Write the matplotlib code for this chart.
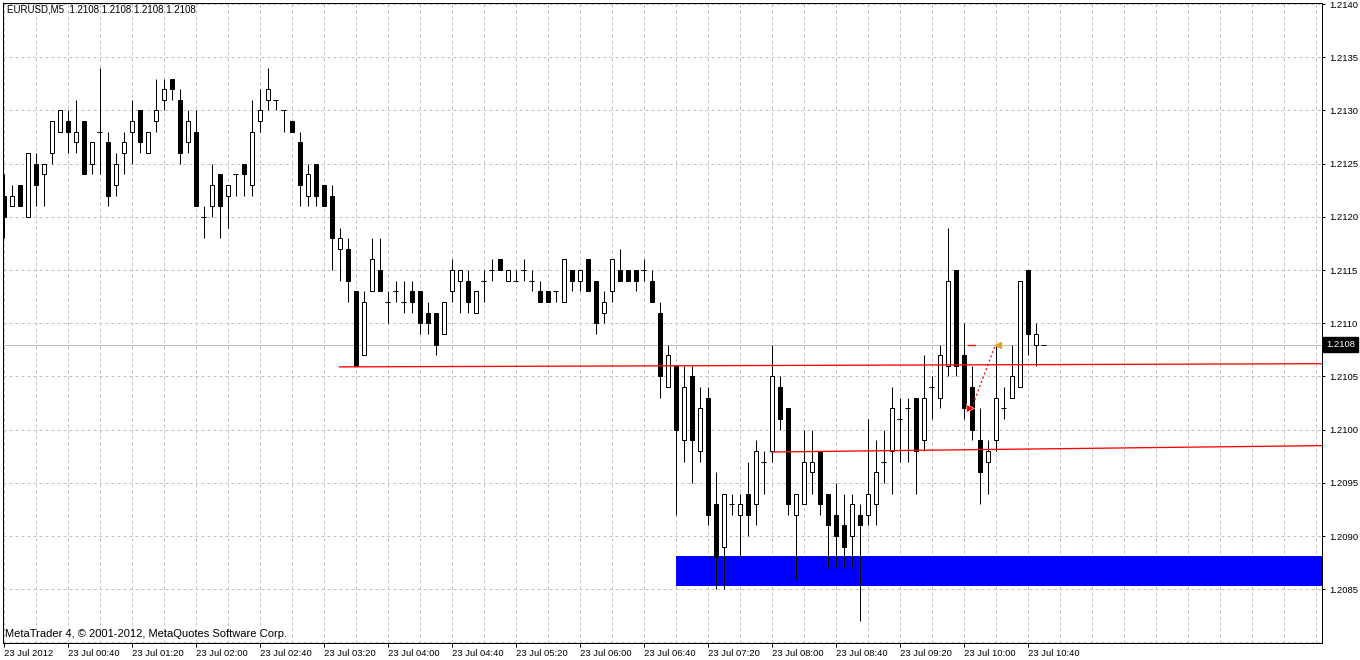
import matplotlib
matplotlib.use("Agg")
import matplotlib.pyplot as plt
import numpy as np

plt.rcParams["font.family"] = ["Liberation Sans", "DejaVu Sans"]

# EURUSD M5, 23 Jul 2012, one bar every 5 minutes starting 00:00
opens = [
    1.2122, 1.2121, 1.2123, 1.2120, 1.2125, 1.2124, 1.2126, 1.2128, 1.2129, 1.2127,
    1.2129, 1.2125, 1.2128, 1.2127, 1.2123, 1.2126, 1.2128, 1.2130, 1.2126, 1.2129,
    1.2131, 1.2133, 1.2131, 1.2127, 1.2128, 1.2120, 1.2121, 1.2124, 1.2122, 1.2124,
    1.2125, 1.2123, 1.2129, 1.2131, 1.2131, 1.2130, 1.2129, 1.2127, 1.2122, 1.2125,
    1.2123, 1.2122, 1.2117, 1.2117, 1.2113, 1.2107, 1.2113, 1.2115, 1.2112, 1.2113,
    1.2112, 1.2113, 1.2113, 1.2111, 1.2111, 1.2109, 1.2113, 1.2114, 1.2114, 1.2111,
    1.2114, 1.2115, 1.2116, 1.2114, 1.2114, 1.2115, 1.2114, 1.2113, 1.2113, 1.2113,
    1.2112, 1.2115, 1.2114, 1.2116, 1.2114, 1.2111, 1.2113, 1.2115, 1.2115, 1.2115,
    1.2115, 1.2114, 1.2111, 1.2104, 1.2106, 1.2099, 1.2105, 1.2098, 1.2103, 1.2093,
    1.2089, 1.2093, 1.2092, 1.2094, 1.2093, 1.2097, 1.2098, 1.2104, 1.2102, 1.2092,
    1.2093, 1.2096, 1.2098, 1.2094, 1.2092, 1.2091, 1.2090, 1.2092, 1.2092, 1.2093,
    1.2097, 1.2098, 1.2101, 1.2102, 1.2103, 1.2099, 1.2104, 1.2103, 1.2106, 1.2115,
    1.2107, 1.2104, 1.2099, 1.2097, 1.2099, 1.2102, 1.2103, 1.2104, 1.2115, 1.2108,
    1.2108,
]
highs = [
    1.2124, 1.2123, 1.2123, 1.2126, 1.2126, 1.2125, 1.2129, 1.2130, 1.2130, 1.2131,
    1.2129, 1.2127, 1.2134, 1.2128, 1.2126, 1.2128, 1.2131, 1.2130, 1.2128, 1.2133,
    1.2133, 1.2133, 1.2132, 1.2130, 1.2130, 1.2121, 1.2125, 1.2124, 1.2123, 1.2124,
    1.2125, 1.2131, 1.2132, 1.2134, 1.2131, 1.2130, 1.2129, 1.2128, 1.2125, 1.2125,
    1.2123, 1.2123, 1.2119, 1.2118, 1.2113, 1.2113, 1.2118, 1.2118, 1.2113, 1.2114,
    1.2114, 1.2114, 1.2113, 1.2112, 1.2111, 1.2112, 1.2116, 1.2115, 1.2115, 1.2113,
    1.2115, 1.2116, 1.2116, 1.2115, 1.2115, 1.2116, 1.2115, 1.2114, 1.2113, 1.2113,
    1.2116, 1.2115, 1.2115, 1.2116, 1.2114, 1.2113, 1.2116, 1.2117, 1.2115, 1.2115,
    1.2116, 1.2115, 1.2112, 1.2108, 1.2106, 1.2106, 1.2106, 1.2104, 1.2104, 1.2096,
    1.2094, 1.2094, 1.2094, 1.2097, 1.2099, 1.2098, 1.2108, 1.2105, 1.2102, 1.2094,
    1.2100, 1.2100, 1.2098, 1.2094, 1.2095, 1.2094, 1.2094, 1.2093, 1.2101, 1.2099,
    1.2100, 1.2104, 1.2103, 1.2103, 1.2103, 1.2107, 1.2105, 1.2108, 1.2119, 1.2115,
    1.2110, 1.2106, 1.2102, 1.2099, 1.2108, 1.2104, 1.2108, 1.2114, 1.2115, 1.2110,
    1.2108,
]
lows = [
    1.2118, 1.2121, 1.2121, 1.2120, 1.2121, 1.2121, 1.2125, 1.2128, 1.2126, 1.2126,
    1.2124, 1.2124, 1.2124, 1.2121, 1.2122, 1.2124, 1.2125, 1.2126, 1.2126, 1.2128,
    1.2130, 1.2131, 1.2125, 1.2126, 1.2121, 1.2118, 1.2120, 1.2118, 1.2119, 1.2122,
    1.2122, 1.2122, 1.2128, 1.2130, 1.2130, 1.2128, 1.2128, 1.2121, 1.2121, 1.2121,
    1.2121, 1.2115, 1.2114, 1.2112, 1.2106, 1.2107, 1.2113, 1.2113, 1.2110, 1.2112,
    1.2111, 1.2111, 1.2109, 1.2109, 1.2107, 1.2109, 1.2112, 1.2111, 1.2111, 1.2111,
    1.2112, 1.2114, 1.2115, 1.2114, 1.2114, 1.2114, 1.2113, 1.2112, 1.2112, 1.2112,
    1.2112, 1.2113, 1.2113, 1.2113, 1.2109, 1.2110, 1.2112, 1.2114, 1.2114, 1.2113,
    1.2114, 1.2112, 1.2103, 1.2104, 1.2092, 1.2097, 1.2095, 1.2097, 1.2091, 1.2085,
    1.2085, 1.2092, 1.2088, 1.2090, 1.2091, 1.2094, 1.2097, 1.2100, 1.2092, 1.2086,
    1.2093, 1.2094, 1.2092, 1.2087, 1.2087, 1.2087, 1.2087, 1.2082, 1.2091, 1.2091,
    1.2095, 1.2094, 1.2097, 1.2097, 1.2094, 1.2098, 1.2101, 1.2102, 1.2105, 1.2105,
    1.2101, 1.2099, 1.2093, 1.2094, 1.2098, 1.2101, 1.2103, 1.2104, 1.2107, 1.2106,
    1.2108,
]
closes = [
    1.2120, 1.2122, 1.2121, 1.2126, 1.2123, 1.2125, 1.2129, 1.2130, 1.2128, 1.2128,
    1.2124, 1.2127, 1.2128, 1.2122, 1.2125, 1.2127, 1.2129, 1.2127, 1.2128, 1.2130,
    1.2132, 1.2132, 1.2126, 1.2129, 1.2121, 1.2120, 1.2123, 1.2121, 1.2123, 1.2124,
    1.2124, 1.2128, 1.2130, 1.2132, 1.2131, 1.2130, 1.2128, 1.2123, 1.2124, 1.2122,
    1.2121, 1.2118, 1.2118, 1.2114, 1.2106, 1.2112, 1.2116, 1.2113, 1.2112, 1.2113,
    1.2112, 1.2112, 1.2110, 1.2110, 1.2108, 1.2112, 1.2115, 1.2115, 1.2112, 1.2113,
    1.2114, 1.2115, 1.2115, 1.2115, 1.2114, 1.2115, 1.2114, 1.2112, 1.2112, 1.2113,
    1.2116, 1.2114, 1.2115, 1.2113, 1.2110, 1.2112, 1.2116, 1.2114, 1.2114, 1.2114,
    1.2115, 1.2112, 1.2105, 1.2107, 1.2100, 1.2104, 1.2099, 1.2102, 1.2092, 1.2088,
    1.2094, 1.2093, 1.2093, 1.2092, 1.2098, 1.2097, 1.2105, 1.2101, 1.2093, 1.2094,
    1.2097, 1.2097, 1.2093, 1.2091, 1.2090, 1.2089, 1.2093, 1.2091, 1.2094, 1.2096,
    1.2097, 1.2102, 1.2101, 1.2102, 1.2098, 1.2103, 1.2104, 1.2107, 1.2114, 1.2106,
    1.2102, 1.2100, 1.2096, 1.2098, 1.2103, 1.2102, 1.2105, 1.2114, 1.2109, 1.2109,
    1.2108,
]

time_labels = [
    "23 Jul 2012", "23 Jul 00:40", "23 Jul 01:20", "23 Jul 02:00", "23 Jul 02:40",
    "23 Jul 03:20", "23 Jul 04:00", "23 Jul 04:40", "23 Jul 05:20", "23 Jul 06:00",
    "23 Jul 06:40", "23 Jul 07:20", "23 Jul 08:00", "23 Jul 08:40", "23 Jul 09:20",
    "23 Jul 10:00", "23 Jul 10:40",
]
label_bars = [0, 8, 16, 24, 32, 40, 48, 56, 64, 72, 80, 88, 96, 104, 112, 120, 128]
price_ticks = [1.2085, 1.2090, 1.2095, 1.2100, 1.2105, 1.2110,
               1.2115, 1.2120, 1.2125, 1.2130, 1.2135, 1.2140]
bid = 1.2108

# chart objects (bar index, price)
upper_trend_x = [42, 164.8]
upper_trend_y = [1.21059, 1.21062]
lower_trend_x = [96, 164.8]
lower_trend_y = [1.20979, 1.20985]
zone_x = [84, 170]
zone_y = [1.20853, 1.20881]
trade_x = [121, 124]
trade_y = [1.2102, 1.2108]
stop_x = [120.6, 121.4]
stop_y = [1.2108, 1.2108]

PX = 0.72  # one pixel in points at dpi 100

fig = plt.figure(figsize=(13.6, 6.6), dpi=100)
ax = fig.add_axes([3 / 1360, 17 / 660, 1319 / 1360, 640 / 660])
ax.set_xlim(-0.0625, 164.8125)
ax.set_ylim(1.207995, 1.21401)

o = np.array(opens)
h = np.array(highs)
l = np.array(lows)
c = np.array(closes)
x = np.arange(len(o))
up = c > o
down = c < o
flat = c == o

# zone rectangle sits behind the candles
ax.fill_between(zone_x, zone_y[0], zone_y[1], color="#0000FF", lw=0, zorder=1)
ax.axhline(bid, color="#C0C0C0", lw=PX, zorder=1.5)

ax.vlines(x, l, h, color="black", lw=PX, zorder=3)
ax.bar(x[up], (c - o)[up], bottom=o[up], width=0.5, color="white",
       edgecolor="black", lw=PX, zorder=4)
ax.bar(x[down], (o - c)[down], bottom=c[down], width=0.5, color="black",
       edgecolor="black", lw=PX, zorder=4)
ax.hlines(o[flat], x[flat] - 0.3125, x[flat] + 0.3125, color="black",
          lw=PX, zorder=4)

# trend lines and trade marks
ax.plot(upper_trend_x, upper_trend_y, color="red", lw=PX * 1.3, zorder=5)
ax.plot(lower_trend_x, lower_trend_y, color="red", lw=PX * 1.3, zorder=5)
ax.plot(stop_x, stop_y, color="red", lw=PX * 1.3, zorder=5)
ax.plot(trade_x, trade_y, color="red", lw=PX * 1.3, ls=(0, (1.5, 2)), zorder=5)
ax.plot(trade_x[0] - 0.25, trade_y[0], marker=">", ms=6, color="red",
        mec="white", mew=0.4, zorder=6)
ax.plot(trade_x[1] + 0.3, trade_y[1], marker="<", ms=5, color="#DAA520",
        mec="#DAA520", zorder=6)

# axes, ticks, grid
for s in ax.spines.values():
    s.set_linewidth(PX)
    s.set_color("black")

ax.yaxis.tick_right()
ax.set_yticks(price_ticks)
ax.set_yticklabels([f"{p:.4f}" for p in price_ticks])
ax.set_xticks(label_bars)
ax.set_xticklabels(time_labels, ha="left")
ax.set_xticks(np.arange(0, 165, 4), minor=True)
ax.set_yticks(np.linspace(1.2080, 1.2140, 13), minor=True)
ax.tick_params(axis="y", which="major", direction="out", length=2.5,
               width=PX, pad=2.5, labelsize=6.8)
ax.tick_params(axis="x", which="major", direction="out", length=3,
               width=PX, pad=1.5, labelsize=6.8)
ax.tick_params(which="minor", length=0)
ax.grid(which="both", color="#C0C0C0", ls=(0, (3, 3)), lw=PX, zorder=0)
ax.set_axisbelow(True)

ax.annotate(f"{bid:.4f}", xy=(1, bid), xycoords=("axes fraction", "data"),
            xytext=(3, 0), textcoords="offset points", ha="left", va="center",
            fontsize=6.8, color="white",
            bbox=dict(boxstyle="square,pad=0.3", fc="black", ec="black"))

fig.text(7 / 1360, 1 - 10 / 660, "EURUSD,M5  1.2108 1.2108 1.2108 1.2108",
         fontsize=7, va="center", ha="left")
fig.text(5 / 1360, 1 - 634 / 660,
         "MetaTrader 4, \u00a9 2001-2012, MetaQuotes Software Corp.",
         fontsize=8, va="center", ha="left")

fig.savefig("out.png", dpi=100, facecolor="white")
